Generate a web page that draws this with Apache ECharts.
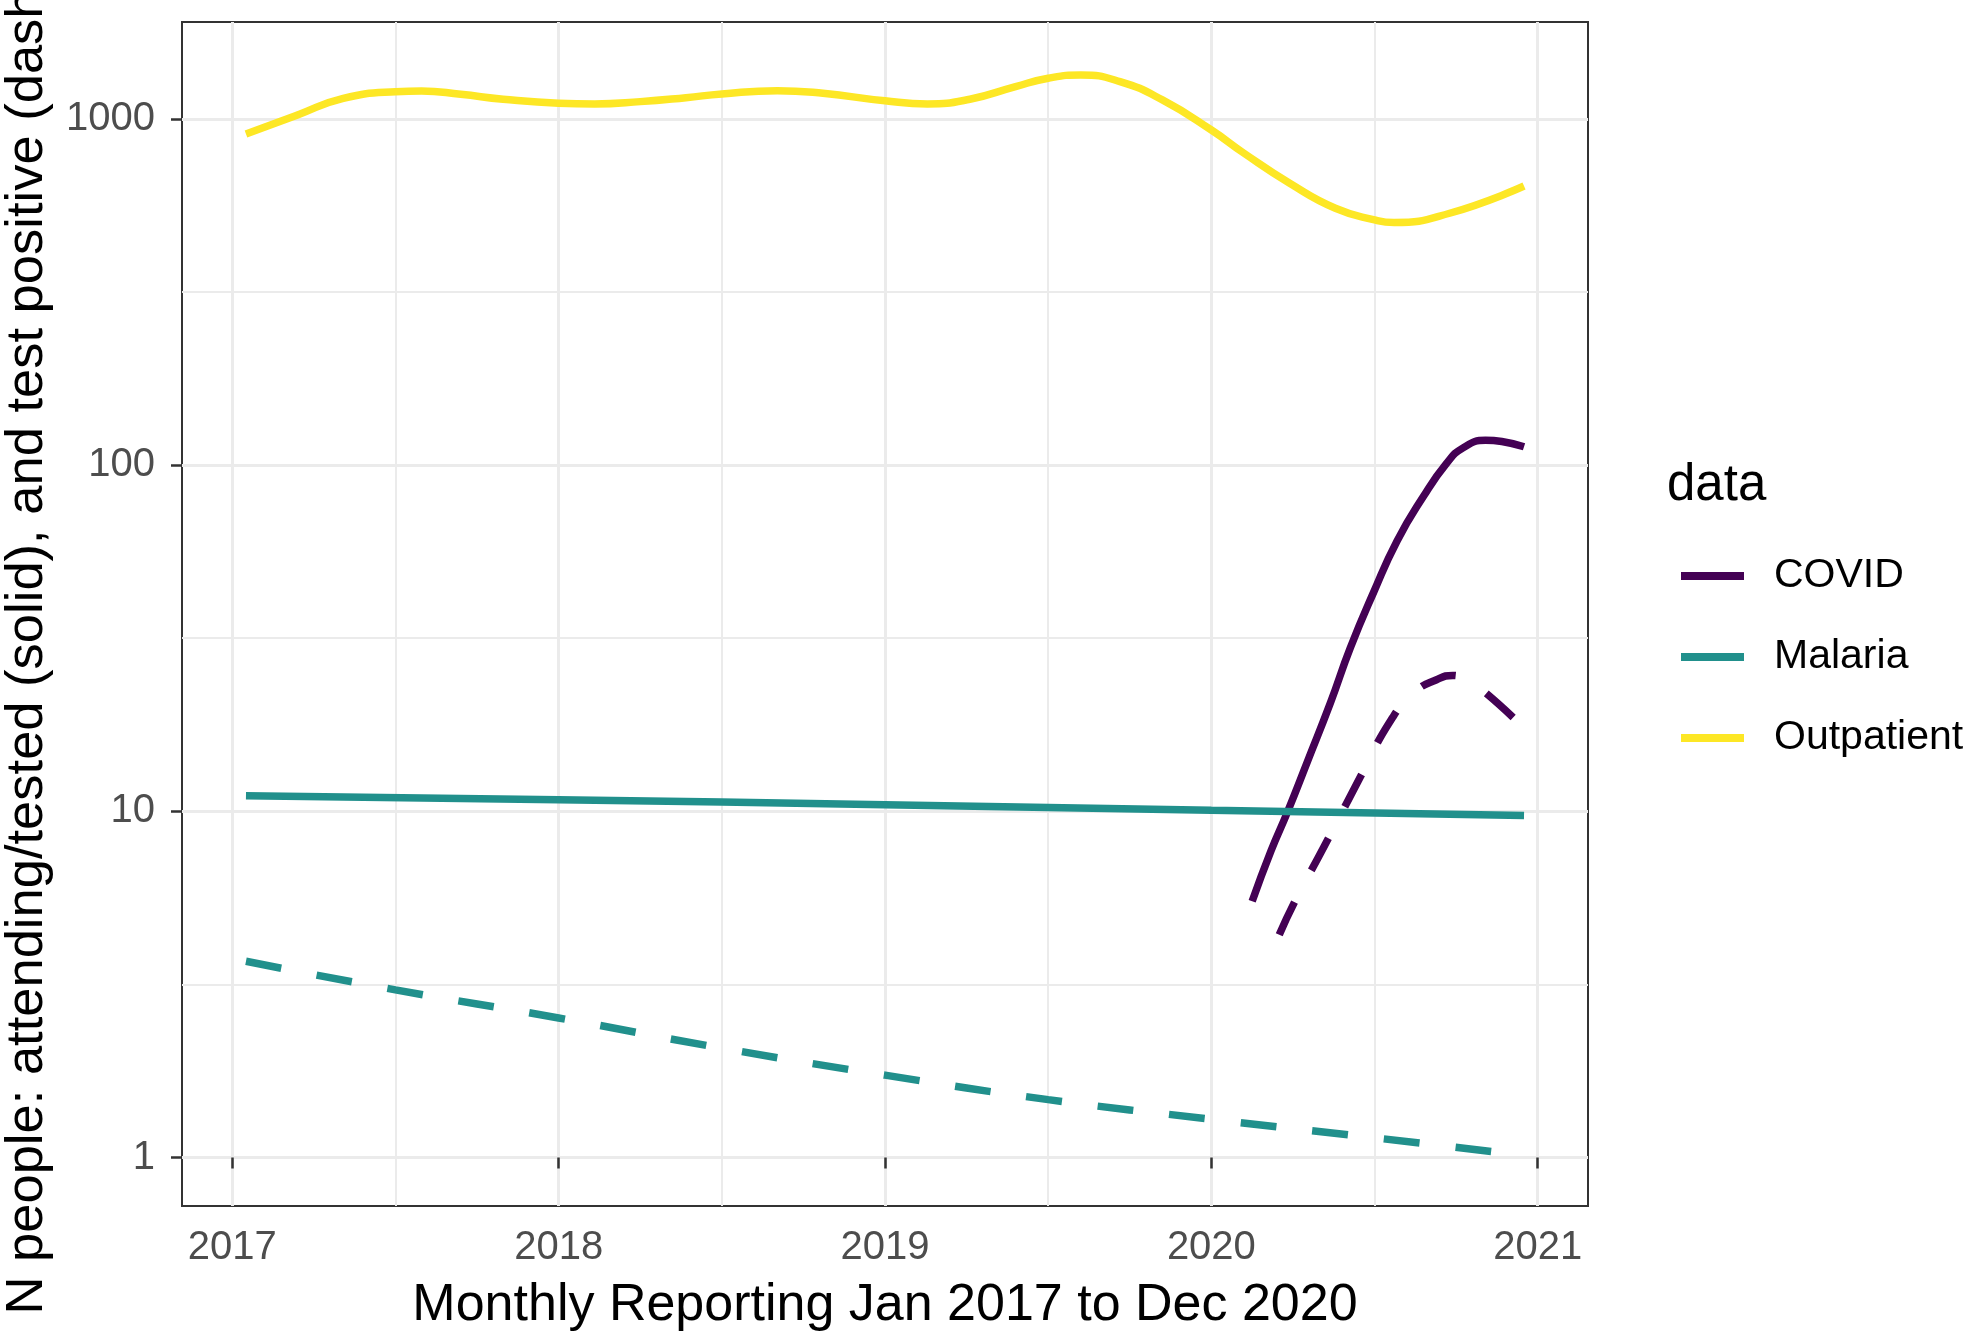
<!DOCTYPE html>
<html>
<head>
<meta charset="utf-8">
<script src="https://cdn.jsdelivr.net/npm/echarts@6.0.0/dist/echarts.min.js"></script>
<style>
  html, body { margin: 0; padding: 0; background: #fff; }
  #chart { width: 1969px; height: 1333px; }
</style>
</head>
<body>
<div id="chart"></div>
<script>
// values (decimal year, count)
var yearTicks = [2017, 2018, 2019, 2020, 2021];
var yearMinor = [2017.5, 2018.5, 2019.5, 2020.5];
var countTicks = [1, 10, 100, 1000];
var countMinor = [3.1623, 31.623, 316.23];

var outpatientX = [2017.042, 2017.2, 2017.34, 2017.5, 2017.58, 2017.7, 2017.83, 2018.0, 2018.11, 2018.25,
  2018.39, 2018.5, 2018.67, 2018.81, 2019.0, 2019.13, 2019.26, 2019.4, 2019.5, 2019.6,
  2019.72, 2019.85, 2020.0, 2020.1, 2020.24, 2020.38, 2020.5, 2020.56, 2020.73, 2020.958];
var outpatient = [905, 1027, 1147, 1199, 1205, 1178, 1140, 1110, 1105, 1122,
  1152, 1181, 1207, 1186, 1128, 1105, 1140, 1240, 1311, 1340,
  1282, 1135, 929, 796, 652, 552, 511, 502, 534, 640];

var covidX = [2020.125, 2020.183, 2020.234, 2020.294, 2020.365, 2020.426, 2020.497, 2020.569, 2020.65, 2020.72,
  2020.77, 2020.84, 2020.89, 2020.958];
var covid = [5.5, 7.7, 10, 13.9, 20.6, 29.7, 42.9, 60.4, 81.3, 101, 112, 118, 117, 113];

var covidPosX = [2020.208, 2020.254, 2020.345, 2020.457, 2020.548, 2020.62, 2020.69, 2020.74, 2020.79, 2020.84, 2020.958];
var covidPos = [4.4, 5.45, 7.9, 12.6, 18.2, 22.0, 24.0, 24.7, 23.6, 22.0, 17.4];

var malariaX = [2017.042, 2018, 2019, 2020, 2020.958];
var malaria = [11.1, 10.8, 10.45, 10.07, 9.72];

var malariaPosX = [2017.042, 2017.5, 2018, 2018.5, 2019, 2019.5, 2020, 2020.5, 2020.9];
var malariaPos = [3.69, 3.05, 2.53, 2.07, 1.73, 1.47, 1.29, 1.14, 1.03];

var COL_COVID = '#440154';
var COL_MALARIA = '#21908C';
var COL_OUT = '#FDE725';
var FONT = 'Liberation Sans, Arial, sans-serif';

function lg(arr) { return arr.map(function (v) { return Math.log10(v); }); }
function pairs(xs, ys) { return xs.map(function (x, i) { return [x, Math.log10(ys[i])]; }); }

function lineSeries(name, xs, ys, color, dashed) {
  return {
    name: name,
    type: 'line',
    xAxisIndex: 0,
    yAxisIndex: 0,
    data: pairs(xs, ys),
    smooth: 0.5,
    showSymbol: false,
    silent: true,
    itemStyle: { color: color },
    lineStyle: { color: color, width: 7.5, type: dashed ? [36, 36] : 'solid', cap: 'butt' },
    z: 3
  };
}

var chart = echarts.init(document.getElementById('chart'), null, { renderer: 'canvas' });

var xMin = 2016.846, xMax = 2021.154;
var yMin = -0.14, yMax = 3.28;

var option = {
  backgroundColor: '#ffffff',
  animation: false,
  textStyle: { fontFamily: FONT },
  grid: {
    left: 182, right: 381, top: 22, bottom: 127,
    containLabel: false, outerBoundsMode: 'none',
    show: true, borderColor: '#333333', borderWidth: 2, backgroundColor: 'transparent'
  },
  title: {
    text: 'data',
    left: 1662, top: 451,
    textStyle: { fontFamily: FONT, fontSize: 51, fontWeight: 'normal', color: '#000', lineHeight: 60 }
  },
  legend: {
    data: ['COVID', 'Malaria', 'Outpatient'],
    orient: 'vertical',
    left: 1676, top: 546,
    icon: 'rect',
    itemWidth: 63, itemHeight: 8, itemGap: 31,
    selectedMode: false,
    textStyle: { fontFamily: FONT, fontSize: 41, color: '#000', lineHeight: 50, padding: [0, 0, 0, 25] }
  },
  xAxis: [{
    type: 'value', min: xMin, max: xMax,
    name: 'Monthly Reporting Jan 2017 to Dec 2020',
    nameLocation: 'middle', nameGap: 74,
    nameTextStyle: { fontFamily: FONT, fontSize: 52, color: '#000' },
    axisLine: { show: false },
    axisTick: { show: true, length: 11, customValues: yearTicks, lineStyle: { color: '#333333', width: 2.5 } },
    axisLabel: { customValues: yearTicks, margin: 22, fontSize: 40, color: '#4D4D4D', fontFamily: FONT,
      formatter: function (v) { return String(Math.round(v)); } },
    splitLine: { show: true, lineStyle: { color: '#EBEBEB', width: 3 } }
  }, {
    type: 'value', min: xMin, max: xMax, position: 'bottom',
    axisLine: { show: false },
    axisTick: { show: false, customValues: yearMinor },
    axisLabel: { show: false, customValues: yearMinor },
    splitLine: { show: true, lineStyle: { color: '#EBEBEB', width: 2 } }
  }],
  yAxis: [{
    type: 'value', min: yMin, max: yMax,
    name: 'N people: attending/tested (solid), and test positive (dashed)',
    nameLocation: 'middle', nameGap: 128,
    nameTextStyle: { fontFamily: FONT, fontSize: 52.5, color: '#000' },
    axisLine: { show: false },
    axisTick: { show: true, length: 11, customValues: lg(countTicks), lineStyle: { color: '#333333', width: 2.5 } },
    axisLabel: { customValues: lg(countTicks), margin: 27, fontSize: 40, color: '#4D4D4D', fontFamily: FONT,
      formatter: function (v) { return String(Math.round(Math.pow(10, v))); } },
    splitLine: { show: true, lineStyle: { color: '#EBEBEB', width: 3 } }
  }, {
    type: 'value', min: yMin, max: yMax, position: 'left',
    axisLine: { show: false },
    axisTick: { show: false, customValues: lg(countMinor) },
    axisLabel: { show: false, customValues: lg(countMinor) },
    splitLine: { show: true, lineStyle: { color: '#EBEBEB', width: 2 } }
  }],
  series: [
    lineSeries('COVID', covidX, covid, COL_COVID, false),
    lineSeries('Malaria', malariaX, malaria, COL_MALARIA, false),
    lineSeries('Outpatient', outpatientX, outpatient, COL_OUT, false),
    lineSeries('COVID', covidPosX, covidPos, COL_COVID, true),
    lineSeries('Malaria', malariaPosX, malariaPos, COL_MALARIA, true)
  ]
};

chart.setOption(option);
</script>
</body>
</html>
